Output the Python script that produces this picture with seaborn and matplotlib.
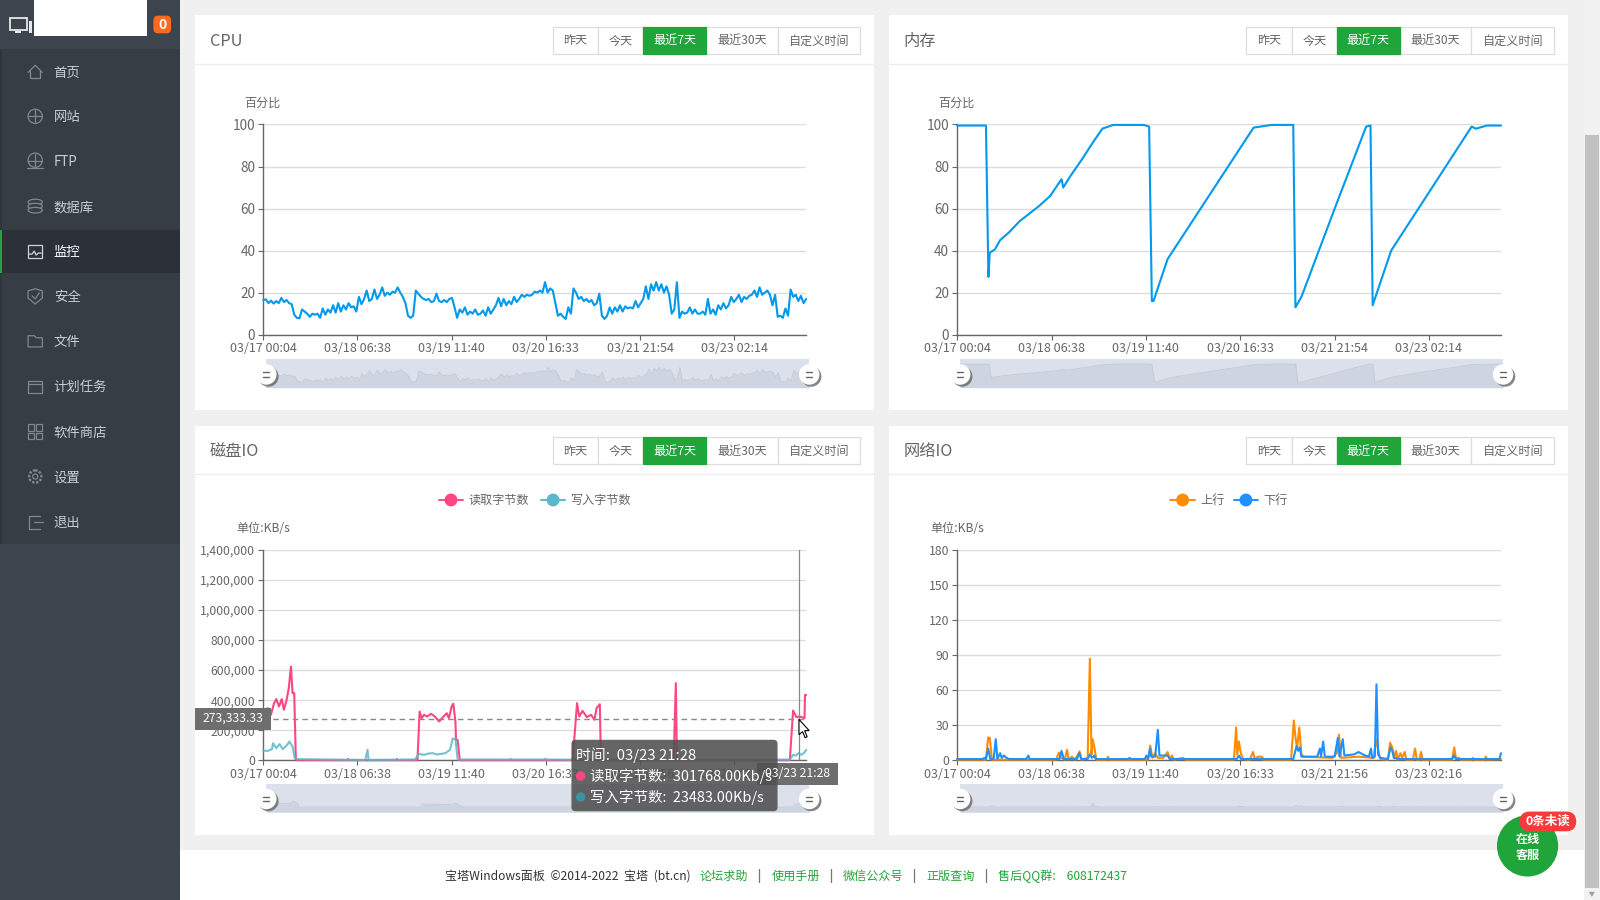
import numpy as np
import matplotlib
matplotlib.use("Agg")
import matplotlib.pyplot as plt
from matplotlib.patches import Rectangle, FancyBboxPatch, Circle, Ellipse, Polygon
from matplotlib.ticker import FuncFormatter
import seaborn as sns

sns.set_style("white")
plt.rcParams['font.family'] = ['Noto Sans CJK SC', 'DejaVu Sans']

# data: x is the sample number on a 0-1000 category axis
tick_idx = [0, 173.5, 347, 520.5, 694, 867.5]
cpu_labels = ["03/17 00:04", "03/18 06:38", "03/19 11:40", "03/20 16:33", "03/21 21:54", "03/23 02:14"]
disk_labels = ["03/17 00:04", "03/18 06:38", "03/19 11:40", "03/20 16:33", "03/21 21:56", "03/23 02:16"]

# cpu, one reading every few samples
cpu_pct = [16.5, 16.8, 15, 16.2, 14.8, 16, 15, 17.5, 15.5, 16.5, 15, 14.5, 9.5, 8, 7.8, 12, 11, 10, 8.5, 10,
           9.5, 10, 8, 12.5, 9.5, 12, 10.5, 14, 10.5, 15, 11, 14, 12, 15, 13, 13.5, 11, 18, 14.5, 17,
           21, 16, 17, 21.5, 17, 19, 22.5, 18.5, 20, 19, 20.5, 20, 22.5, 20, 18, 15, 9, 8, 9, 21,
           19.5, 18, 17, 16.5, 17, 15.5, 16, 19.5, 16, 15.5, 16.5, 15.5, 17, 17.5, 13, 8, 12, 10.5, 13, 9.5,
           11, 10, 12, 9.5, 10, 11.5, 9, 13, 10, 12, 14, 17.5, 13.5, 17, 14, 16, 14.5, 18, 15.5, 17,
           19, 18, 19, 18.5, 19, 20.5, 20, 21, 20, 25, 20, 22, 21, 15, 9, 10, 8.5, 7.5, 13, 10,
           22, 20, 17, 18, 16, 17, 15.5, 16.5, 14, 15, 19.5, 9, 7.5, 9, 13, 10, 13, 11, 14, 11,
           13.5, 12.5, 13, 12.5, 16, 13, 15, 17, 23, 17, 24, 21, 25, 21, 24, 20, 23, 19, 10, 12,
           25, 8, 11, 10, 10.5, 13, 10, 12, 10, 10, 11, 9.5, 17, 10, 12, 9.5, 14, 12, 15, 12.5,
           14, 18, 15.5, 17, 19, 15.5, 18, 17, 18.5, 19, 21, 18, 22.5, 19, 20, 21, 19, 14, 19, 8.5,
           9, 8, 12.5, 9, 21.5, 18, 19, 16, 18.5, 15, 17]

mem_idx = [0, 53, 57.5, 60, 69.5, 79, 95, 115, 151, 171, 192, 195, 207, 231, 251, 267, 287, 343, 353, 358,
           361, 387, 545, 578, 618, 622, 633, 698, 752, 760, 764, 798, 946, 954, 974, 1000]
mem_pct = [99.5, 99.5, 27.5, 39, 40.6, 45, 48.6, 54, 61.3, 66, 74, 70, 75, 84, 92, 98, 99.8, 99.8, 99, 16,
           16, 36, 98.5, 99.8, 99.8, 13, 18, 62.6, 99, 99.5, 14, 40, 99, 98, 99.5, 99.5]

read_idx = [0, 8, 14, 20, 24, 29, 34, 38, 43, 47, 51, 54, 57, 60, 64, 155, 156, 157, 245, 246, 247, 284, 288, 292,
            296, 302, 309, 316, 324, 332, 338, 342, 347, 350, 354, 355, 358, 362, 455, 456, 457, 519, 520, 521,
            570, 578, 582, 588, 596, 604, 610, 614, 620, 622, 756, 760, 762, 823, 824, 825, 970, 976, 982, 988,
            997, 998, 1000]
read_kb = [313000, 347000, 302000, 380000, 407000, 358000, 407000, 336000, 402000, 480000, 624000, 447000, 447000,
           5000, 0, 0, 8000, 0, 0, 8000, 0, 0, 324000, 280000, 302000, 291000, 309000, 291000, 258000, 291000,
           313000, 280000, 358000, 376000, 258000, 135000, 135000, 0, 0, 6000, 0, 0, 8000, 0, 0, 380000, 291000,
           329000, 287000, 302000, 269000, 347000, 373000, 0, 0, 513000, 0, 0, 5000, 0, 0, 331000, 287000, 291000,
           280000, 435000, 435000]
write_idx = [0, 8, 16, 18, 24, 30, 36, 44, 48, 54, 58, 64, 188, 192, 194, 280, 286, 296, 304, 312, 320, 328, 336,
             344, 349, 354, 358, 384, 568, 970, 976, 981, 986, 991, 997, 1000]
write_kb = [64000, 62000, 73000, 113000, 80000, 107000, 73000, 102000, 124000, 91000, 13000, 7000, 2000, 69000, 2000,
            5000, 42000, 36000, 44000, 47000, 38000, 42000, 48000, 69000, 144000, 140000, 5000, 5000, 4000, 4000,
            36000, 30000, 47000, 36000, 51000, 69000]

up_idx = [0, 53, 57, 60, 64, 182, 187, 191, 198, 202, 205, 211, 217, 225, 229, 240, 244, 247, 249, 252, 256, 275, 277,
          280, 351, 355, 359, 364, 369, 379, 387, 391, 395, 399, 415, 420, 509, 513, 515, 518, 522, 526, 538, 544,
          547, 553, 560, 564, 614, 619, 622, 625, 629, 633, 638, 690, 698, 702, 706, 738, 766, 770, 778, 792, 796,
          800, 804, 807, 810, 815, 818, 823, 826, 838, 842, 845, 850, 853, 856, 910, 914, 917, 923, 926, 946, 948,
          951, 970, 972, 975, 1000]
up_kb = [.5, .5, 19.5, 19, .5, .5, 6.5, 2, .5, 9, .5, 3, .5, 7.5, .5, 2, 87, 5, 18, 12, .5, .5, 3,
         .5, .5, 12.5, 2, 6, 2, 2, 7, 1, 4, .5, 2, .5, .5, 28, 5, 16, 5, 1, .5, 7,
         1, 3, 3, .5, .5, 34, 20, 10, 28, 5, 3, 2, 6, 22, 2, 3, 2, 18, 1, .5, 15,
         11, 2, 8, .5, 6, 2, 7, .5, .5, 10, .5, .5, 7, .5, .5, 11, 2, 2, .5, .5, 2,
         .5, .5, 3, .5, 1]
down_idx = [0, 47, 50, 53, 57, 61, 67, 71, 74, 79, 82, 86, 91, 95, 127, 131, 133, 188, 192, 196, 220, 225, 228, 240,
            244, 248, 252, 255, 315, 317, 319, 345, 348, 351, 355, 357, 364, 369, 372, 387, 391, 514, 518, 522, 618,
            624, 627, 630, 633, 662, 667, 669, 673, 676, 694, 700, 703, 709, 712, 730, 738, 750, 757, 761, 763, 768,
            771, 774, 778, 792, 797, 800, 803, 814, 910, 914, 917, 997, 1000]
down_kb = [1, 1, 2, 1, 10, 1, 1, 18, 1, 6, 2, 4, 2, 1, 1, 4, 1, 1, 8, 1, 1, 6, 1, 1,
           5, 2, 4, 1, 1, 2, 1, 1, 4, 1, 10, 3, 3, 26, 4, 4, 1, 1, 4, 1, 1,
           12, 8, 11, 3, 3, 10, 3, 16, 3, 3, 19, 3, 18, 4, 5, 7, 4, 3, 10, 2, 3,
           65, 5, 2, 1, 11, 8, 2, 1, 1, 4, 1, 1, 6]

menu_items = ["首页", "网站", "FTP", "数据库", "监控", "安全", "文件", "计划任务", "软件商店", "设置", "退出"]
menu_y = [70, 114, 158, 202, 246, 290, 334, 378, 423, 467, 511]
range_buttons = ["昨天", "今天", "最近7天", "最近30天", "自定义时间"]

GREEN = "#20a53a"
TXT = "#666666"
GRID = "#dddddd"
TEAL = "#5bb8c9"
W, H = 1568.0, 882.0  # layout is measured in these pixels

fig = plt.figure(figsize=(16, 9), dpi=100, facecolor="#f0f0f0")


def pixel_axes(zorder):
    a = fig.add_axes([0, 0, 1, 1], zorder=zorder)
    a.set_xlim(0, W)
    a.set_ylim(H, 0)
    a.axis("off")
    a.patch.set_alpha(0)
    return a


bg = pixel_axes(0)
fg = pixel_axes(5)


def box(a, x0, y0, x1, y1, **kw):
    a.add_patch(Rectangle((x0, y0), x1 - x0, y1 - y0, **kw))


def plot_axes(x0, y0, x1, y1, zorder=2):
    return fig.add_axes([x0 / W, 1 - y1 / H, (x1 - x0) / W, (y1 - y0) / H], zorder=zorder)


# sidebar
box(bg, 0, 0, 176, H, fc="#3c444d", ec="none")
box(bg, 2, 48, 176, 533, fc="#363d45", ec="none")
box(bg, 0, 48, 2, 533, fc="#2f353c", ec="none")
box(bg, 0, 225, 176, 268, fc="#2c3038", ec="none")
box(bg, 0, 225, 2, 268, fc=GREEN, ec="none")
box(bg, 33, 0, 144, 35, fc="white", ec="none")
box(bg, 10, 18, 26, 29, fc="none", ec="#e8e8e8", lw=1.3)
box(bg, 15, 30, 21, 32, fc="#e8e8e8", ec="none")
box(bg, 28, 21, 31, 32, fc="#e8e8e8", ec="none")
bg.add_patch(FancyBboxPatch((151, 16), 16, 16, boxstyle="round,pad=0,rounding_size=4", fc="#ff6a1f", ec="#ff6a1f", lw=1))
bg.text(159, 24.5, "0", color="white", fontsize=10, weight="bold", ha="center", va="center")

for name, y in zip(menu_items, menu_y):
    col = "white" if name == "监控" else "#c9ced4"
    bg.text(52.5, y + 1, name, color=col, fontsize=9.6, ha="left", va="center")

# menu icons
ic = "#80878e"
lw_ic = 0.9
cx = 34.5
bg.plot([cx - 7, cx, cx + 7], [71, 64, 71], color=ic, lw=lw_ic)
bg.plot([cx - 5, cx - 5, cx + 5, cx + 5], [70, 76, 76, 70], color=ic, lw=lw_ic)
for y in (114, 158):
    bg.add_patch(Ellipse((cx, y - 1 if y == 158 else y), 14, 14, fc="none", ec=ic, lw=lw_ic))
    bg.plot([cx - 7, cx + 7], [y, y], color=ic, lw=lw_ic)
    bg.plot([cx, cx], [y - 7, y + 6], color=ic, lw=lw_ic)
bg.plot([cx - 8, cx + 8], [165, 165], color=ic, lw=lw_ic)
for y in (198, 202, 206):
    bg.add_patch(Ellipse((cx, y), 14, 5.5, fc="#363d45", ec=ic, lw=lw_ic))
box(bg, cx - 7, 240, cx + 7, 253, fc="none", ec="#d0d3d6", lw=lw_ic)
bg.plot([cx - 6, cx - 3, cx - 1, cx + 1, cx + 3, cx + 6], [249, 249, 246, 250, 248, 248], color="#d0d3d6", lw=lw_ic)
bg.add_patch(Polygon([(cx - 7, 285), (cx, 283), (cx + 7, 285), (cx + 7, 292), (cx, 298), (cx - 7, 292)], fc="none", ec=ic, lw=lw_ic))
bg.plot([cx - 3, cx, cx + 4], [290, 293, 287], color=ic, lw=lw_ic)
bg.add_patch(Polygon([(cx - 7, 329), (cx - 1, 329), (cx + 1, 331), (cx + 7, 331), (cx + 7, 340), (cx - 7, 340)], fc="none", ec=ic, lw=lw_ic))
box(bg, cx - 7, 373, cx + 7, 385, fc="none", ec=ic, lw=lw_ic)
bg.plot([cx - 7, cx + 7], [376, 376], color=ic, lw=lw_ic)
for dx in (-7, 1):
    for dy in (-7, 1):
        box(bg, cx + dx, 423 + dy, cx + dx + 6, 423 + dy + 6, fc="none", ec=ic, lw=lw_ic)
bg.add_patch(Circle((cx, 467), 6, fc="none", ec=ic, lw=lw_ic + 0.8, ls=(0, (1, 0.7))))
bg.add_patch(Circle((cx, 467), 2.5, fc="none", ec=ic, lw=lw_ic))
bg.plot([cx + 5, cx - 6, cx - 6, cx + 5], [506, 506, 518, 518], color=ic, lw=lw_ic)
bg.plot([cx - 1, cx + 8], [512, 512], color=ic, lw=lw_ic)

# page furniture
box(bg, 176, 833, 1552, H, fc="white", ec="none")
box(bg, 1552, 0, 1568, H, fc="#f1f1f1", ec="none")
box(bg, 1553, 132, 1567, 870, fc="#c1c1c1", ec="none")
bg.add_patch(Polygon([(1557, 874), (1563, 874), (1560, 879)], fc="#a0a0a0", ec="none"))

panels = [
    (191, 15, 856.5, 402, "CPU"),
    (871, 15, 1536.5, 402, "内存"),
    (191, 417, 856.5, 818, "磁盘IO"),
    (871, 417, 1536.5, 818, "网络IO"),
]
for x0, y0, x1, y1, title in panels:
    box(bg, x0, y0, x1, y1, fc="white", ec="none")
    bg.plot([x0, x1], [y0 + 48, y0 + 48], color="#eeeeee", lw=1)
    bg.text(x0 + 14.5, y0 + 25.5, title, color=TXT, fontsize=11.7, ha="left", va="center")
    edges = [x0 + 350.5, x0 + 395, x0 + 439, x0 + 501, x0 + 571, x0 + 651.5]
    for i, lab in enumerate(range_buttons):
        on = lab == "最近7天"
        box(bg, edges[i], y0 + 11, edges[i + 1], y0 + 38, fc=GREEN if on else "white", ec=GREEN if on else GRID, lw=0.9, zorder=3 if on else 2)
        bg.text((edges[i] + edges[i + 1]) / 2, y0 + 25, lab, color="white" if on else TXT, fontsize=8.7, ha="center", va="center", zorder=4)

# footer
fs = 8.7
bg.text(436, 859, "宝塔Windows面板  ©2014-2022  宝塔  (bt.cn)", color="#333333", fontsize=fs, va="center")
for txt, x in [("论坛求助", 686), ("使用手册", 756), ("微信公众号", 826), ("正版查询", 908), ("售后QQ群:    608172437", 978)]:
    bg.text(x, 859, txt, color=GREEN, fontsize=fs, va="center")
for x in (744, 814, 896, 966):
    bg.plot([x, x], [852, 864], color="#777777", lw=0.9)


def style_chart(a, ymax, yticks, xlabels, ysize=8.8):
    a.set_xlim(0, 1000)
    a.set_ylim(0, ymax)
    a.set_yticks(yticks)
    a.set_xticks(tick_idx)
    a.set_xticklabels(xlabels)
    a.set_xlabel("")
    a.set_ylabel("")
    a.patch.set_alpha(0)
    sns.despine(ax=a)
    a.yaxis.grid(True, color=GRID, lw=1)
    a.xaxis.grid(False)
    a.set_axisbelow(True)
    for s in ("left", "bottom"):
        a.spines[s].set_color(TXT)
        a.spines[s].set_linewidth(1)
    a.tick_params(axis="both", direction="out", length=3.7, width=0.8, color=TXT, labelcolor=TXT, labelsize=9, pad=2, bottom=True, left=True)
    a.tick_params(axis="x", pad=1.6)
    a.tick_params(axis="y", labelsize=ysize)


def draw_line(a, xs, ys, color, lw=1.5, alpha=1.0):
    sns.lineplot(x=xs, y=ys, ax=a, color=color, linewidth=lw, alpha=alpha, estimator=None, sort=False, clip_on=False, zorder=3)


def overview(x0, y0, series_x, series_y, lims):
    a = plot_axes(x0 + 3, y0, x0 + 535, y0 + 28, zorder=3)
    sns.lineplot(x=series_x, y=series_y, ax=a, color="#c3c9d6", linewidth=0.6, estimator=None, sort=False)
    a.fill_between(series_x, lims[0], series_y, color="#cfd5e0", lw=0)
    a.set_xlim(0, 1000)
    a.set_ylim(*lims)
    a.set_xlabel("")
    a.set_ylabel("")
    a.axis("off")
    box(bg, x0 + 3, y0, x0 + 535, y0 + 28, fc="#dbe0ea", ec="none", zorder=3)
    for hx in (x0 + 3, x0 + 535):
        fg.add_patch(Circle((hx + 2, y0 + 17), 10, fc="#555555", ec="none", alpha=0.7))
        fg.add_patch(Circle((hx, y0 + 15), 10, fc="white", ec="none"))
        fg.plot([hx - 3, hx + 3], [y0 + 13, y0 + 13], color="#666666", lw=1)
        fg.plot([hx - 3, hx + 3], [y0 + 17, y0 + 17], color="#666666", lw=1)


cpu_idx = np.linspace(0, 1000, len(cpu_pct))

# CPU
ax = plot_axes(258, 122, 790, 328)
draw_line(ax, cpu_idx, cpu_pct, "#0099ee")
style_chart(ax, 100, [0, 20, 40, 60, 80, 100], cpu_labels, ysize=9.8)
overview(258, 352, cpu_idx, cpu_pct, (1.6, 34.4))
bg.text(257.5, 101, "百分比", color=TXT, fontsize=8.7, ha="center", va="center")

# memory
ax = plot_axes(938, 122, 1471, 328)
draw_line(ax, mem_idx, mem_pct, "#0099ee")
style_chart(ax, 100, [0, 20, 40, 60, 80, 100], cpu_labels, ysize=9.8)
overview(938, 352, mem_idx, mem_pct, (-12, 123))
bg.text(937.5, 101, "百分比", color=TXT, fontsize=8.7, ha="center", va="center")

# disk io
ax = plot_axes(258, 539, 790, 745)
draw_line(ax, read_idx, read_kb, "#ff4683")
draw_line(ax, write_idx, write_kb, TEAL, alpha=0.85)
style_chart(ax, 1400000, list(range(0, 1400001, 200000)), disk_labels)
ax.yaxis.set_major_formatter(FuncFormatter(lambda v, p: f"{int(v):,}"))
ax.axhline(273333.33, color="#888888", lw=1, ls=(0, (4, 3)), zorder=5)
ax.axvline(987, color="#888888", lw=0.9, zorder=5)
overview(258, 768, read_idx, read_kb, (-525000, 2400000))
bg.text(258, 518, "单位:KB/s", color=TXT, fontsize=8.7, ha="center", va="center")

# network io
ax = plot_axes(938, 539, 1471, 745)
draw_line(ax, up_idx, up_kb, "#ff8c00")
draw_line(ax, down_idx, down_kb, "#1e90ff")
style_chart(ax, 180, [0, 30, 60, 90, 120, 150, 180], disk_labels)
overview(938, 768, up_idx, up_kb, (-116, 529))
bg.text(938, 518, "单位:KB/s", color=TXT, fontsize=8.7, ha="center", va="center")

# legends, drawn by hand like the page
for x0, col, lab in [(430, "#ff4683", "读取字节数"), (530, TEAL, "写入字节数"), (1147, "#ff8c00", "上行"), (1209, "#1e90ff", "下行")]:
    bg.plot([x0, x0 + 24], [490, 490], color=col, lw=1.4, zorder=3)
    bg.add_patch(Circle((x0 + 12, 490), 6.3, fc=col, ec="none", zorder=4))
    bg.text(x0 + 29, 490.5, lab, color=TXT, fontsize=8.7, va="center", ha="left")

# crosshair labels and tooltip
box(fg, 191, 694, 266, 715, fc="#6e6e6e", ec="none")
fg.text(228.5, 704, "273,333.33", color="white", fontsize=8.8, ha="center", va="center")
box(fg, 742, 748, 821, 769, fc="#6e6e6e", ec="none")
fg.text(781.5, 758, "03/23 21:28", color="white", fontsize=8.8, ha="center", va="center")
fg.add_patch(FancyBboxPatch((563, 728), 196, 64, boxstyle="round,pad=3,rounding_size=4", fc="#505050", ec="none", alpha=0.88))
fg.text(564, 740, "时间:  03/23 21:28", color="white", fontsize=10.7, va="center")
fg.add_patch(Circle((569, 760.5), 4.6, fc="#ff4683", ec="none"))
fg.text(578, 760.5, "读取字节数:  301768.00Kb/s", color="white", fontsize=10.45, va="center")
fg.add_patch(Circle((569, 781), 4.6, fc="#3d92a5", ec="none"))
fg.text(578, 781, "写入字节数:  23483.00Kb/s", color="white", fontsize=10.45, va="center")
fg.add_patch(Polygon([(783, 705), (783, 720), (786.5, 717), (789, 723), (791, 722), (788.5, 716), (793, 716)], fc="white", ec="black", lw=0.8, zorder=6))

# chat bubble
fg.add_patch(Circle((1497, 829), 30, fc=GREEN, ec="none"))
fg.text(1497, 823, "在线", color="white", fontsize=8.7, weight="bold", ha="center", va="center")
fg.text(1497, 838, "客服", color="white", fontsize=8.7, weight="bold", ha="center", va="center")
fg.add_patch(FancyBboxPatch((1490, 796), 54, 18, boxstyle="round,pad=0,rounding_size=9", fc="#f83a3a", ec="#f83a3a", lw=1))
fg.text(1517, 805, "0条未读", color="white", fontsize=9, weight="bold", ha="center", va="center")

fig.savefig("out.png", dpi=100, facecolor=fig.get_facecolor())
